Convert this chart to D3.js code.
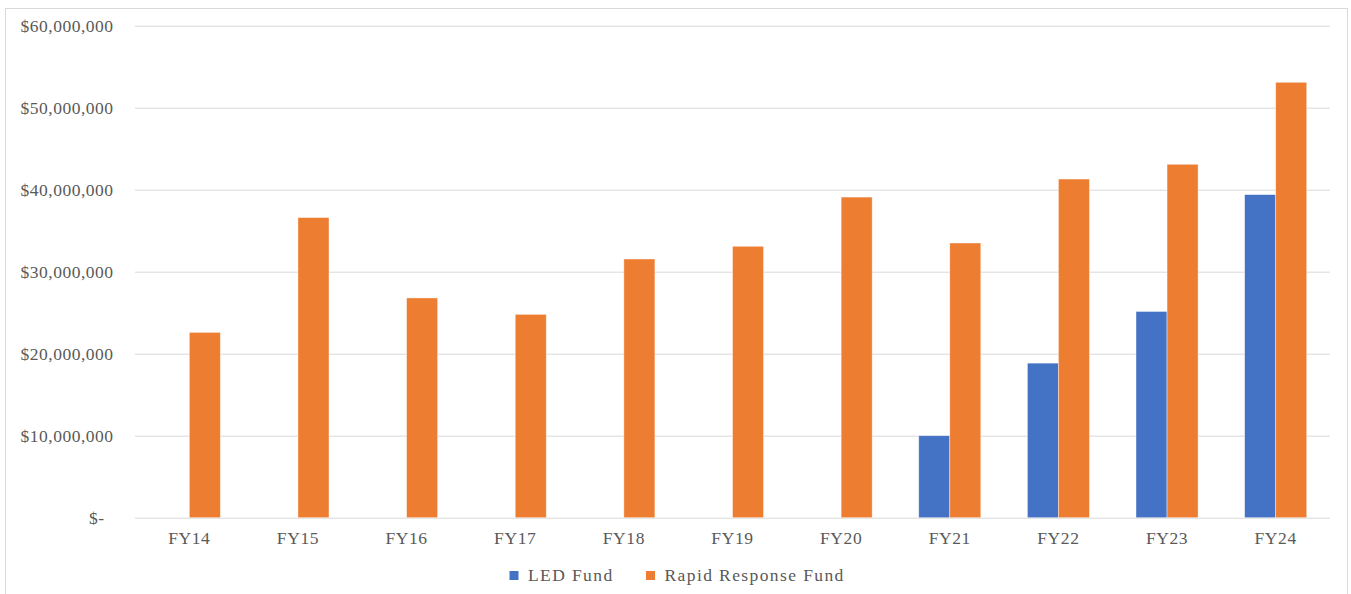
<!DOCTYPE html>
<html>
<head>
<meta charset="utf-8">
<script src="https://cdn.jsdelivr.net/npm/d3@7"></script>
<style>
  html, body { margin: 0; padding: 0; background: #fff; }
  svg { display: block; }
  text { font-family: "Liberation Serif", "Times New Roman", serif; fill: #595959; }
</style>
</head>
<body>
<svg id="chart" width="1351" height="594"></svg>
<script>
// Fiscal years and funding per program
const years = ["FY14", "FY15", "FY16", "FY17", "FY18", "FY19", "FY20", "FY21", "FY22", "FY23", "FY24"];
const ledFund = [0, 0, 0, 0, 0, 0, 0, 10000000, 18850000, 25150000, 39400000];
const rapidResponseFund = [22600000, 36600000, 26800000, 24800000, 31550000, 33100000, 39100000, 33500000, 41300000, 43100000, 53100000];
const seriesNames = ["LED Fund", "Rapid Response Fund"];
const seriesColors = ["#4472C4", "#ED7D31"];
const yTicks = [0, 10000000, 20000000, 30000000, 40000000, 50000000, 60000000];

const svg = d3.select("#chart");
const W = 1351, H = 594;
const margin = { left: 135, right: 21, top: 25.7, bottom: 76.3 };
const plotW = W - margin.left - margin.right;
const plotH = H - margin.top - margin.bottom;
const fontSize = "17.5px";

// Chart area frame
svg.append("rect")
  .attr("x", 5.5).attr("y", 8.5)
  .attr("width", 1342).attr("height", 600)
  .attr("fill", "#fff").attr("stroke", "#d9d9d9").attr("stroke-width", 1);

const g = svg.append("g").attr("transform", `translate(${margin.left},${margin.top})`);

const x0 = d3.scaleBand().domain(years).range([0, plotW]).paddingInner(0).paddingOuter(0);
// Excel-style gap width of 150% between clusters
const gapRatio = 1.5;
const clusterW = x0.bandwidth() * 2 / (2 + gapRatio);
const x1 = d3.scaleBand().domain(seriesNames).range([0, clusterW]).padding(0);
const y = d3.scaleLinear().domain([0, 60000000]).range([plotH, 0]);

// Gridlines
g.append("g")
  .selectAll("line")
  .data(yTicks)
  .join("line")
  .attr("x1", 0).attr("x2", plotW)
  .attr("y1", d => Math.round(y(d)) + 0.5).attr("y2", d => Math.round(y(d)) + 0.5)
  .attr("stroke", "#d9d9d9").attr("stroke-width", 1);

// Y axis labels (accounting format)
const fmt = d3.format(",");
const yAxis = d3.axisLeft(y)
  .tickValues(yTicks)
  .tickSize(0)
  .tickPadding(22)
  .tickFormat(d => d === 0 ? "$-" : "$" + fmt(d));
const yG = g.append("g").call(yAxis);
yG.select(".domain").remove();
yG.selectAll("text")
  .style("font-size", fontSize)
  .style("font-family", "'Liberation Serif', serif")
  .style("letter-spacing", "0.5px")
  .attr("fill", "#595959")
  .attr("dx", d => d === 0 ? -8.5 : 0.5);

// Bars
const rows = years.map((yr, i) => ({ year: yr, values: [ledFund[i], rapidResponseFund[i]] }));
const groups = g.append("g")
  .selectAll("g")
  .data(rows)
  .join("g")
  .attr("transform", d => `translate(${x0(d.year) + (x0.bandwidth() - clusterW) / 2},0)`);

groups.selectAll("rect")
  .data(d => d.values.map((v, k) => ({ name: seriesNames[k], value: v, color: seriesColors[k] })).filter(d => d.value > 0))
  .join("rect")
  .attr("x", d => x1(d.name))
  .attr("width", x1.bandwidth())
  .attr("y", d => y(d.value))
  .attr("height", d => y(0) - y(d.value))
  .attr("fill", d => d.color)
  .attr("stroke", "#fff").attr("stroke-opacity", 0.55).attr("stroke-width", 0.75);

// X axis labels
const xAxis = d3.axisBottom(x0).tickSize(0).tickPadding(14);
const xG = g.append("g").attr("transform", `translate(0,${plotH})`).call(xAxis);
xG.select(".domain").remove();
xG.selectAll("text")
  .style("font-size", fontSize)
  .style("font-family", "'Liberation Serif', serif")
  .style("letter-spacing", "0.6px")
  .attr("fill", "#595959");

// Legend
const legend = svg.append("g").attr("transform", "translate(509.5,571)");
const legendItems = [
  { name: seriesNames[0], color: seriesColors[0], offset: 0 },
  { name: seriesNames[1], color: seriesColors[1], offset: 136.5 }
];
const li = legend.selectAll("g").data(legendItems).join("g")
  .attr("transform", d => `translate(${d.offset},0)`);
li.append("rect").attr("width", 9).attr("height", 9).attr("fill", d => d.color);
li.append("text")
  .attr("x", 18.5).attr("y", 9.5)
  .style("font-size", fontSize)
  .style("letter-spacing", "1.4px")
  .attr("fill", "#595959")
  .text(d => d.name);
</script>
</body>
</html>
